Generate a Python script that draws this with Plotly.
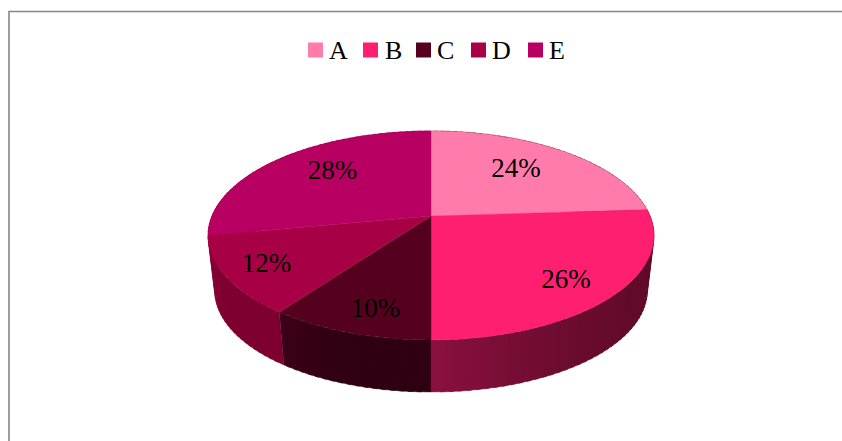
import math

import plotly.graph_objects as go

categories = ['A', 'B', 'C', 'D', 'E']
shares = [24, 26, 10, 12, 28]

top_colors = ['#FF7BAC', '#FF1F70', '#560020', '#A80044', '#B80062']
# side wall colour at the start and end of each slice (clockwise)
side_colors = [
    [(95, 10, 40), (95, 10, 40)],
    [(95, 10, 40), (138, 16, 64)],
    [(46, 0, 18), (63, 0, 24)],
    [(125, 0, 48), (143, 0, 56)],
    [(143, 0, 56), (143, 0, 56)],
]

WIDTH, HEIGHT = 842, 441
CX, CY = 431, 216
RX, RY, TILT = 219.1, 100.9, 0.1865
BASE_DROP, BASE_SCALE = 55.7, 0.97


def project(angle, drop=0.0, scale=1.0):
    '''pie angle (degrees clockwise from the back) to page pixels'''
    px = math.sin(math.radians(angle))
    py = -math.cos(math.radians(angle))
    w = 1 - TILT * py
    return CX + scale * RX * px / w, CY + drop + scale * RY * py / w


def arc(start, end, step=1.0, **kw):
    n = max(1, round((end - start) / step))
    return [project(start + (end - start) * i / n, **kw) for i in range(n + 1)]


def polygon(points, color):
    return go.Scatter(
        x=[p[0] for p in points], y=[p[1] for p in points],
        mode='lines', fill='toself', fillcolor=color,
        line=dict(color=color, width=0.4),
        hoverinfo='skip', showlegend=False)


# slice boundaries from the shares
total = sum(shares)
edges = [0]
for value in shares:
    edges.append(edges[-1] + value / total * 360)

fig = go.Figure()

# side walls, back to front so the nearer pieces paint over
walls = []
for i in range(len(shares)):
    start, end = edges[i], edges[i + 1]
    n = max(1, round((end - start) / 2))
    for j in range(n):
        a0 = start + (end - start) * j / n
        a1 = start + (end - start) * (j + 1) / n
        t = ((j + 0.5) / n) ** 3
        c0, c1 = side_colors[i]
        rgb = [round(c0[k] + (c1[k] - c0[k]) * t) for k in range(3)]
        depth = -math.cos(math.radians((a0 + a1) / 2))
        # overlap the piece behind so no seam shows between the strips
        if a1 <= 180 and j > 0:
            a0 -= 1
        elif a0 >= 180 and j < n - 1:
            a1 += 1
        walls.append((depth, a0, a1, f'rgb({rgb[0]},{rgb[1]},{rgb[2]})'))
walls.sort()
for _, a0, a1, color in walls:
    points = arc(a0, a1, 0.5) + arc(a0, a1, 0.5, drop=BASE_DROP, scale=BASE_SCALE)[::-1]
    fig.add_trace(polygon(points, color))

# top faces
for i in range(len(shares)):
    points = [(CX, CY)] + arc(edges[i], edges[i + 1]) + [(CX, CY)]
    fig.add_trace(polygon(points, top_colors[i]))

# percent labels
label_x = [516, 566, 375.5, 266.5, 332.5]
label_y = [170, 281, 310, 265, 172]
fig.add_trace(go.Scatter(
    x=label_x, y=label_y,
    mode='text', text=[f'{v}%' for v in shares], textposition='middle center',
    textfont=dict(family='Liberation Serif', size=27, color='#000000'),
    hoverinfo='skip', showlegend=False))

# legend row
swatch_x = [315.5, 370.5, 423.5, 478.5, 535.5]
text_x = [329, 385, 437, 492, 549]
fig.add_trace(go.Scatter(
    x=swatch_x, y=[50] * len(categories), mode='markers',
    marker=dict(symbol='square', size=15, color=top_colors, line_width=0),
    hoverinfo='skip', showlegend=False))
for name, x in zip(categories, text_x):
    fig.add_annotation(x=x, y=50, text=name, showarrow=False, xanchor='left',
                       yanchor='middle', xshift=-2,
                       font=dict(family='Liberation Serif', size=26, color='#000000'))

# chart frame runs off the right and bottom of the picture
fig.add_shape(type='rect', x0=9, y0=11.5, x1=WIDTH + 20, y1=HEIGHT + 20,
              line=dict(color='#868686', width=1.6), fillcolor='rgba(0,0,0,0)')

fig.update_layout(
    width=WIDTH, height=HEIGHT, margin=dict(l=0, r=0, t=0, b=0),
    paper_bgcolor='white', plot_bgcolor='white', showlegend=False,
    xaxis=dict(range=[0, WIDTH], visible=False, fixedrange=True),
    yaxis=dict(range=[HEIGHT, 0], visible=False, fixedrange=True))

# drop the default page margin so the figure fills the window
fig.write_html("out.html", config=dict(displayModeBar=False),
               post_script="document.body.style.margin='0';document.documentElement.style.overflow='hidden';")
